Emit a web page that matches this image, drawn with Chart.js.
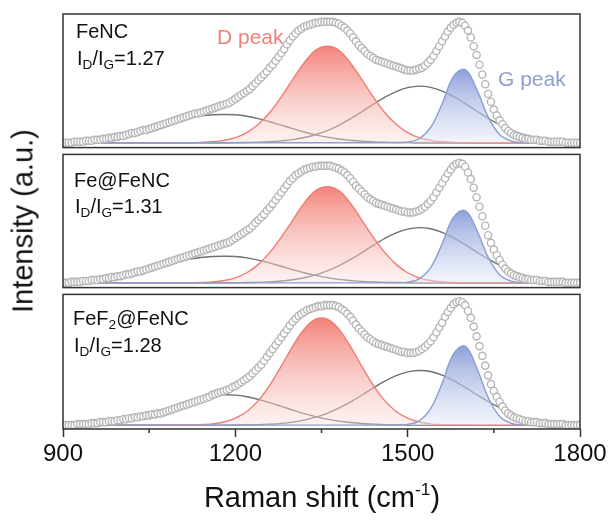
<!DOCTYPE html>
<html lang="en">
<head>
<meta charset="UTF-8">
<title>Raman spectra</title>
<script src="https://cdn.jsdelivr.net/npm/chart.js"></script>
<style>
    body {
        margin: 0;
        background: #fff;
        font-family: Arial, "Liberation Sans", sans-serif;
    }

    #wrap {
        position: relative;
        width: 612px;
        height: 523px;
        overflow: hidden;
    }

    canvas {
        position: absolute;
        left: 0;
    }

    .lbl {
        position: absolute;
        font-size: 20px;
        line-height: 20px;
        color: #111;
        white-space: nowrap;
    }

    .lbl sub {
        font-size: 0.68em;
        vertical-align: -0.3em;
        line-height: 0;
    }

    .peak {
        position: absolute;
        font-size: 21px;
        line-height: 21px;
        white-space: nowrap;
    }

    #ytitle {
        position: absolute;
        left: 23px;
        top: 221px;
        font-size: 29px;
        line-height: 29px;
        color: #111;
        white-space: nowrap;
        transform: translate(-50%, -50%) rotate(-90deg);
    }

    #xtitle {
        position: absolute;
        left: 322px;
        top: 483px;
        font-size: 29px;
        line-height: 29px;
        color: #111;
        white-space: nowrap;
        transform: translateX(-50%);
    }

    #xtitle sup {
        font-size: 0.6em;
        vertical-align: 0.7em;
        line-height: 0;
    }
</style>
</head>
<body>
<div id="wrap">
    <canvas id="c1" width="612" height="153" style="top:0px"></canvas>
    <canvas id="c2" width="612" height="144" style="top:149px"></canvas>
    <canvas id="c3" width="612" height="234" style="top:289px"></canvas>

    <div class="lbl" style="left:76px; top:21px">FeNC</div>
    <div class="lbl" style="left:77px; top:48px">I<sub>D</sub>/I<sub>G</sub>=1.27</div>
    <div class="lbl" style="left:74px; top:170px">Fe@FeNC</div>
    <div class="lbl" style="left:75px; top:196px">I<sub>D</sub>/I<sub>G</sub>=1.31</div>
    <div class="lbl" style="left:73px; top:308px">FeF<sub>2</sub>@FeNC</div>
    <div class="lbl" style="left:74px; top:335px">I<sub>D</sub>/I<sub>G</sub>=1.28</div>

    <div class="peak" style="left:217px; top:26px; color:#ef827a">D peak</div>
    <div class="peak" style="left:498px; top:68px; color:#8d9fd2">G peak</div>

    <div id="ytitle">Intensity (a.u.)</div>
    <div id="xtitle">Raman shift (cm<sup>-1</sup>)</div>
</div>

<script>
    // sampling grids (cm-1)
    function grid(start, stop, step) {
        var out = [];
        for (var v = start; v <= stop; v += step) out.push(v);
        return out;
    }
    var specShift = grid(900, 1800, 5);   // measured spectrum
    var fitShift = grid(900, 1800, 20);   // fitted components

    var xMin = 900, xMax = 1800;
    var majorTicks = [900, 1200, 1500, 1800];
    var minorTicks = [1050, 1350, 1650];

    // ---- FeNC ----
    var fencData = [
        0,0,0,0,1,1,1,1,2,2,2,3,3,3,4,4,5,5,6,6,
        7,7,8,9,10,10,11,12,13,13,14,15,16,17,18,19,20,21,22,23,
        24,25,26,27,28,29,30,30,31,32,33,34,35,36,37,38,39,40,41,43,
        45,47,49,51,53,55,58,61,64,67,70,73,77,80,84,88,92,96,101,105,
        109,112,115,117,119,120,121,122,123,123,124,124,124,124,124,123,122,120,118,115,
        112,108,104,100,97,94,91,89,87,85,84,83,82,81,80,79,78,77,76,75,
        74,74,74,75,76,77,79,82,85,89,94,99,104,109,114,118,121,123,124,123,
        120,115,108,99,90,80,70,60,50,42,34,28,23,19,15,12,10,8,7,6,
        5,4,4,3,3,3,2,2,2,1,1,1,1,1,1,0,0,0,0,0,
        0
    ];
    var fencD = [
        0,0,0,0,0,0,0,0,0,0,
        0,0.1,0.4,1.0,2.4,5.2,10.4,19,31,47,65,82,95,99,95,82,65,47,31,19,10.4,5.2,2.4,1.0,0.4,0.1,
        0,0,0,0,0,0,0,0,0,0
    ];
    var fencG = [
        0,0,0,0,0,0,0,0,0,0,0,0,0,0,0,0,0,0,0,0,0,0,0,0,0,0,0,0,0,0,
        0.7,4.1,15.7,40,68,75,55,26.5,8.4,1.8,0.2,
        0,0,0,0,0
    ];
    var fencD3 = [
        0,0,0,0,0,0,0,0,0,0,0,0,0,0,0,
        0.1,0.3,0.5,1.0,1.9,3.2,5.3,8.4,12.5,17.9,24.4,31.7,39.4,46.6,52.5,56.5,58,
        56.8,53,47.2,40.1,32.5,25.1,18.5,13,8.7,5.6,3.4,2.0,1.1,0.6
    ];
    var fencD4 = [
        1.2,1.9,2.9,4.3,6.1,8.4,11.2,14.3,17.5,20.6,23.4,25.8,27.6,28.7,29,28.7,
        27.2,24.7,21.5,18.0,14.4,11.0,8.1,5.7,3.8,2.5,1.5,0.9,0.5,0.3,0.1,
        0,0,0,0,0,0,0,0,0,0,0,0,0,0,0
    ];

    // ---- Fe@FeNC ----
    var feData = [
        0,0,0,1,1,1,1,2,2,2,3,3,3,4,4,5,5,6,6,7,
        7,8,9,9,10,11,12,12,13,14,15,16,17,18,19,20,21,22,23,24,
        25,26,27,28,29,30,31,32,33,34,35,36,37,38,39,40,41,42,43,45,
        47,49,51,53,55,57,60,63,66,69,72,76,79,83,87,91,95,99,103,107,
        110,113,115,117,119,120,121,122,122,123,123,123,123,123,122,121,120,118,116,113,
        110,106,102,99,96,93,90,88,86,84,83,82,81,80,79,78,77,76,75,75,
        74,74,74,75,76,78,80,83,86,90,95,100,105,110,115,119,123,125,126,125,
        122,116,109,100,90,80,70,60,50,42,35,29,24,19,15,12,10,8,7,6,
        5,4,4,3,3,3,2,2,2,1,1,1,1,1,1,0,0,0,0,0,
        0
    ];
    var feD = [
        0,0,0,0,0,0,0,0,0,0,
        0,0.1,0.4,1.0,2.4,5.3,10.6,19.4,32,48,66,84,97,101,97,84,66,48,32,19.4,10.6,5.3,2.4,1.0,0.4,0.1,
        0,0,0,0,0,0,0,0,0,0
    ];
    var feG = [
        0,0,0,0,0,0,0,0,0,0,0,0,0,0,0,0,0,0,0,0,0,0,0,0,0,0,0,0,0,0,
        0.7,4.2,15.9,41,69,76,56,27,8.5,1.8,0.2,
        0,0,0,0,0
    ];
    var feD3 = [
        0,0,0,0,0,0,0,0,0,0,0,0,0,0,0,
        0.1,0.3,0.5,1.0,1.9,3.2,5.3,8.4,12.5,17.9,24.4,31.7,39.4,46.6,52.5,56.5,58,
        56.8,53,47.2,40.1,32.5,25.1,18.5,13,8.7,5.6,3.4,2.0,1.1,0.6
    ];
    var feD4 = [
        1.2,1.8,2.8,4.2,5.9,8.1,10.8,13.8,16.9,19.9,22.6,24.9,26.7,27.7,28,27.7,
        26.3,23.9,20.8,17.4,13.9,10.6,7.8,5.5,3.7,2.4,1.4,0.9,0.5,0.3,0.1,
        0,0,0,0,0,0,0,0,0,0,0,0,0,0,0
    ];

    // ---- FeF2@FeNC ----
    var fef2Data = [
        0,0,0,0,0,1,1,1,1,1,2,2,2,3,3,3,4,4,4,5,
        5,6,6,7,7,8,8,9,9,10,10,11,11,12,12,13,14,15,16,17,
        18,19,20,21,22,23,24,25,26,27,28,29,31,32,33,34,35,36,37,39,
        40,42,44,46,48,50,53,56,59,62,66,70,74,78,82,86,90,94,98,102,
        106,109,112,114,116,118,119,120,121,122,122,123,123,123,123,122,121,119,117,114,
        111,107,103,99,96,93,90,88,86,84,83,82,81,80,79,78,77,76,75,75,
        74,74,74,75,76,78,80,83,86,90,95,100,105,111,116,120,124,126,127,126,
        123,117,110,101,91,81,71,61,51,42,35,29,24,19,15,12,10,8,7,6,
        5,4,4,3,3,3,2,2,2,1,1,1,1,1,1,0,0,0,0,0,
        0
    ];
    var fef2D = [
        0,0,0,0,0,0,0,0,0,0,
        0.1,0.2,0.5,1.3,3.2,7.1,14,25.1,40.9,60.5,81,98.6,108.7,108.7,98.6,81,60.5,40.9,25.1,14,7.1,3.2,1.3,0.5,0.2,0.1,
        0,0,0,0,0,0,0,0,0,0
    ];
    var fef2G = [
        0,0,0,0,0,0,0,0,0,0,0,0,0,0,0,0,0,0,0,0,0,0,0,0,0,0,0,0,0,0,
        0.8,4.4,16.9,43,73,81,59,28.6,9.1,1.9,0.2,
        0,0,0,0,0
    ];
    var fef2D3 = [
        0,0,0,0,0,0,0,0,0,0,0,0,0,0,0,
        0.1,0.3,0.5,1.0,1.8,3.1,5.1,8.1,12.1,17.3,23.6,30.6,38.1,45.0,50.7,54.6,56,
        54.9,51.2,45.6,38.7,31.4,24.2,17.9,12.6,8.4,5.4,3.3,1.9,1.1,0.6
    ];
    var fef2D4 = [
        0.4,0.7,1.3,2.1,3.3,5.0,7.3,10.2,13.5,17.2,21.2,24.8,27.8,29.9,31,30.7,
        29.1,26.4,23.0,19.2,15.4,11.8,8.7,6.1,4.1,2.7,1.6,1.0,0.5,0.3,0.1,
        0,0,0,0,0,0,0,0,0,0,0,0,0,0,0
    ];

    var fontFamily = 'Arial, "Liberation Sans", sans-serif';

    function pairs(xs, ys) {
        return ys.map(function (y, i) { return { x: xs[i], y: y }; });
    }

    // vertical fade from the peak of the component down to the baseline
    function fade(top, bottom) {
        return function (context) {
            var chart = context.chart;
            if (!chart.chartArea) return top;
            var ys = chart.scales.y;
            var peak = Math.max.apply(null, context.dataset.data.map(function (p) { return p.y; }));
            var g = chart.ctx.createLinearGradient(0, ys.getPixelForValue(peak), 0, ys.getPixelForValue(0));
            g.addColorStop(0, top);
            g.addColorStop(1, bottom);
            return g;
        };
    }

    // frame around each panel + minor ticks on the bottom axis
    var panelFrame = {
        id: 'panelFrame',
        afterDraw: function (chart) {
            var ctx = chart.ctx, a = chart.chartArea;
            ctx.save();
            ctx.strokeStyle = '#333';
            ctx.lineWidth = 1.5;
            ctx.strokeRect(a.left, a.top, a.right - a.left, a.bottom - a.top);
            if (chart.options.scales.x.display) {
                var xs = chart.scales.x;
                minorTicks.forEach(function (v) {
                    var px = xs.getPixelForValue(v);
                    ctx.beginPath();
                    ctx.moveTo(px, a.bottom);
                    ctx.lineTo(px, a.bottom + 4);
                    ctx.stroke();
                });
            }
            ctx.restore();
        }
    };

    function makePanel(id, spec, dPeak, gPeak, d3, d4, yMin, yMax, showX, padTop, padBottom) {
        var curve = {
            pointRadius: 0,
            borderWidth: 1.4,
            tension: 0.4
        };
        return new Chart(document.getElementById(id), {
            type: 'line',
            data: {
                datasets: [{
                    label: 'spectrum',
                    data: pairs(specShift, spec),
                    showLine: false,
                    pointRadius: 3.6,
                    pointBorderWidth: 1.4,
                    pointBorderColor: '#b6b6b6',
                    pointBackgroundColor: '#ffffff'
                }, Object.assign({
                    label: 'G peak',
                    data: pairs(fitShift, gPeak),
                    borderColor: '#8a9ed6',
                    fill: 'origin',
                    backgroundColor: fade('rgba(130,150,212,0.9)', 'rgba(226,232,247,0.45)')
                }, curve), Object.assign({
                    label: 'D peak',
                    data: pairs(fitShift, dPeak),
                    borderColor: '#ef7d75',
                    fill: 'origin',
                    backgroundColor: fade('rgba(241,118,108,0.9)', 'rgba(251,222,219,0.4)')
                }, curve), Object.assign({
                    label: 'D3',
                    data: pairs(fitShift, d3),
                    borderColor: '#707070',
                    fill: false
                }, curve), Object.assign({
                    label: 'D4',
                    data: pairs(fitShift, d4),
                    borderColor: '#707070',
                    fill: false
                }, curve)]
            },
            options: {
                responsive: false,
                animation: false,
                devicePixelRatio: 1,
                layout: { padding: { left: 63, right: 32, top: padTop, bottom: padBottom } },
                plugins: { legend: { display: false }, tooltip: { enabled: false } },
                scales: {
                    x: {
                        type: 'linear',
                        min: xMin,
                        max: xMax,
                        display: showX,
                        afterBuildTicks: function (scale) {
                            scale.ticks = majorTicks.map(function (v) { return { value: v }; });
                        },
                        afterFit: function (scale) {
                            if (showX) scale.height = 94;
                        },
                        border: { display: false },
                        grid: {
                            drawOnChartArea: false,
                            drawTicks: true,
                            tickLength: 8,
                            tickWidth: 1.5,
                            tickColor: '#333'
                        },
                        ticks: {
                            color: '#111',
                            padding: 3,
                            maxRotation: 0,
                            font: { family: fontFamily, size: 24 },
                            callback: function (value) { return String(value); }
                        }
                    },
                    y: {
                        display: false,
                        min: yMin,
                        max: yMax
                    }
                }
            },
            plugins: [panelFrame]
        });
    }

    makePanel('c1', fencData, fencD, fencG, fencD3, fencD4, -5, 132, false, 14, 2);
    makePanel('c2', feData, feD, feG, feD3, feD4, -5, 135, false, 2, 2);
    makePanel('c3', fef2Data, fef2D, fef2G, fef2D3, fef2D4, -4, 134, true, 2, 0);
</script>
</body>
</html>
